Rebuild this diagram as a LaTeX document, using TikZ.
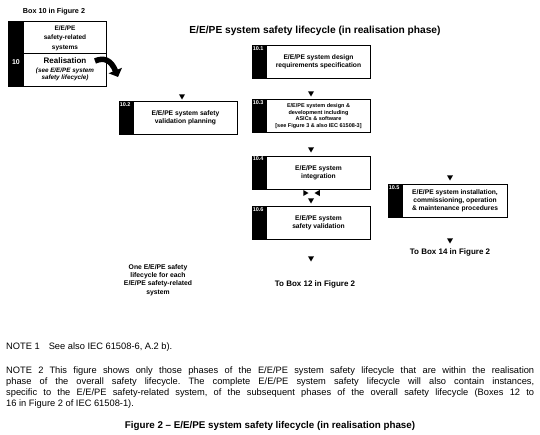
\documentclass[tikz,border=0pt]{standalone}
\usepackage{fontspec}
\setmainfont{Liberation Sans}
\usetikzlibrary{shapes.geometric,arrows.meta}
\begin{document}
\begin{tikzpicture}[x=1pt,y=-1pt,
  stripbox/.style={draw,line width=0.8pt,rectangle,minimum width=118pt,minimum height=33pt,inner sep=0pt,
    path picture={\fill[black] (path picture bounding box.north west) rectangle ([xshift=15pt]path picture bounding box.south west);}},
  boxtext/.style={align=center,inner sep=0pt,font=\fontsize{6.7}{8}\selectfont\bfseries},
  smalltext/.style={align=center,inner sep=0pt,font=\fontsize{5.5}{6.6}\selectfont\bfseries},
  numlabel/.style={anchor=north west,inner sep=1pt,text=white,font=\fontsize{5.5}{6}\selectfont\bfseries},
  downtri/.style={regular polygon,regular polygon sides=3,shape border rotate=180,fill=black,minimum size=7pt,inner sep=0pt},
  righttri/.style={regular polygon,regular polygon sides=3,shape border rotate=-90,fill=black,minimum size=7pt,inner sep=0pt},
  lefttri/.style={regular polygon,regular polygon sides=3,shape border rotate=90,fill=black,minimum size=7pt,inner sep=0pt},
  boldlabel/.style={inner sep=0pt,font=\fontsize{8}{9}\selectfont\bfseries},
  notetext/.style={anchor=north west,inner sep=0pt,text width=528pt,align=justify,font=\frenchspacing\fontsize{9.3}{11}\selectfont}
]
\useasboundingbox (0,0) rectangle (540,434);

% Box 10
\node[boldlabel,font=\fontsize{7.2}{8}\selectfont\bfseries] (box10cap) at (54,12) {Box 10 in Figure 2};
\node[draw,line width=0.8pt,rectangle,minimum width=98pt,minimum height=65pt,inner sep=0pt,
  path picture={\fill[black] (path picture bounding box.north west) rectangle ([xshift=16pt]path picture bounding box.south west);}]
  (b10) at (57,53.5) {};
\draw[line width=0.8pt] (24,53) -- (106,53);
\node[text=white,inner sep=0pt,font=\fontsize{7}{8}\selectfont\bfseries] (n10) at (16,62) {10};
\node[boxtext,font=\fontsize{6.5}{9.5}\selectfont\bfseries] (t10a) at (65,38) {E/E/PE\\safety-related\\systems};
\node[inner sep=0pt,font=\fontsize{8}{8}\selectfont\bfseries] (t10b) at (65,61) {Realisation};
\node[boxtext,font=\fontsize{6.3}{7.5}\selectfont\bfseries\itshape] (t10c) at (65,74.5) {(see E/E/PE system\\safety lifecycle)};
\coordinate (ca1) at (95,61);
\coordinate (ca2) at (118,77);
\draw[line width=5.5pt,-{Triangle[length=7pt,width=14pt]}] (ca1) .. controls (104,57) and (111,60) .. (ca2);

% Title
\node[inner sep=0pt,font=\fontsize{10.2}{11}\selectfont\bfseries] (title) at (315,31) {E/E/PE system safety lifecycle (in realisation phase)};

% 10.1
\node[stripbox] (b101) at (311,62) {};
\node[numlabel] at (b101.north west) {10.1};
\node[boxtext,xshift=7.5pt] (t101) at (b101.center) {E/E/PE system design\\requirements specification};

% 10.2
\node[downtri] (a102) at (182,96) {};
\node[stripbox] (b102) at (178,118) {};
\node[numlabel] at (b102.north west) {10.2};
\node[boxtext,xshift=7.5pt] (t102) at (b102.center) {E/E/PE system safety\\validation planning};

% 10.3
\node[downtri] (a103) at (311,93) {};
\node[stripbox] (b103) at (311,116) {};
\node[numlabel] at (b103.north west) {10.3};
\node[smalltext,xshift=7.5pt] (t103) at (b103.center) {E/E/PE system design \&\\development including\\ASICs \& software\\{[}see Figure 3 \& also IEC 61508-3{]}};

% 10.4
\node[downtri] (a104) at (311,149) {};
\node[stripbox] (b104) at (311,172.5) {};
\node[numlabel] at (b104.north west) {10.4};
\node[boxtext,xshift=7.5pt] (t104) at (b104.center) {E/E/PE system\\integration};

% bow tie
\node[righttri] (bt1) at (305,193) {};
\node[lefttri] (bt2) at (318,193) {};
\node[downtri] (a106) at (311,200) {};

% 10.6
\node[stripbox] (b106) at (311,223) {};
\node[numlabel] at (b106.north west) {10.6};
\node[boxtext,xshift=7.5pt] (t106) at (b106.center) {E/E/PE system\\safety validation};
\node[downtri] (a12) at (311,258) {};
\node[boldlabel] (to12) at (315,284) {To Box 12 in Figure 2};

% 10.5
\node[downtri] (a105) at (450,177) {};
\node[stripbox,minimum width=119pt] (b105) at (447.5,201) {};
\node[numlabel] at (b105.north west) {10.5};
\node[boxtext,xshift=7.5pt] (t105) at (b105.center) {E/E/PE system installation,\\commissioning, operation\\\& maintenance procedures};
\node[downtri] (a14) at (450,240) {};
\node[boldlabel] (to14) at (450,252) {To Box 14 in Figure 2};

% side note
\node[boxtext,font=\fontsize{6.8}{8.2}\selectfont\bfseries] (one) at (158,280) {One E/E/PE safety\\lifecycle for each\\E/E/PE safety-related\\system};

% notes
\node[notetext] (note1) at (6,343) {NOTE 1\hspace{9pt}See also IEC 61508-6, A.2 b).};
\node[notetext] (note2) at (6,367) {NOTE 2\hspace{6pt}This figure shows only those phases of the E/E/PE system safety lifecycle that are within the realisation\linebreak
phase of the overall safety lifecycle. The complete E/E/PE system safety lifecycle will also contain instances,\linebreak
specific to the E/E/PE safety-related system, of the subsequent phases of the overall safety lifecycle (Boxes 12 to\linebreak
16 in Figure 2 of IEC 61508-1).};
\node[inner sep=0pt,font=\fontsize{9.8}{10}\selectfont\bfseries] (caption) at (270,426) {Figure 2 -- E/E/PE system safety lifecycle (in realisation phase)};
\end{tikzpicture}
\end{document}
